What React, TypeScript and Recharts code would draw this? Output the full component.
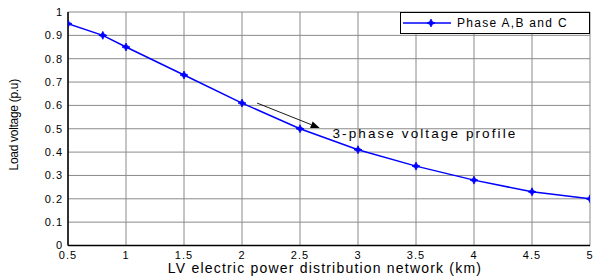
import React from 'react';
import { LineChart, Line, XAxis, YAxis, CartesianGrid, ReferenceLine, ReferenceDot } from 'recharts';

const distances = [0.5, 0.8, 1, 1.5, 2, 2.5, 3, 3.5, 4, 4.5, 5];
const voltages = [0.95, 0.9, 0.85, 0.73, 0.61, 0.5, 0.41, 0.34, 0.28, 0.23, 0.2];
const xTicks = [0.5, 1, 1.5, 2, 2.5, 3, 3.5, 4, 4.5, 5];
const yTicks = [0, 0.1, 0.2, 0.3, 0.4, 0.5, 0.6, 0.7, 0.8, 0.9, 1];
const seriesName = 'Phase A,B and C';
const annotationText = '3-phase voltage profile';
const arrowStart = { x: 2.13, y: 0.61 };
const arrowEnd = { x: 2.67, y: 0.503 };
const annotationPos = { x: 2.78, y: 0.48 };

const data = distances.map((d, i) => ({ d, v: voltages[i] }));

const FONT = '"Liberation Sans", Arial, sans-serif';
const BLUE = '#0000ff';

const StarDot = (props: any) => {
  const { cx, cy } = props;
  if (cx == null || cy == null) return null;
  const s = 4;
  const t = 1.3;
  const pts = [
    [cx, cy - s], [cx + t, cy - t], [cx + s, cy], [cx + t, cy + t],
    [cx, cy + s], [cx - t, cy + t], [cx - s, cy], [cx - t, cy - t],
  ].map((p) => p.join(',')).join(' ');
  return <polygon points={pts} fill={BLUE} stroke={BLUE} strokeWidth={0.8} />;
};

const ArrowShape = (props: any) => {
  const { x1, y1, x2, y2 } = props;
  if ([x1, y1, x2, y2].some((v) => v == null || isNaN(v))) return null;
  const ang = Math.atan2(y2 - y1, x2 - x1);
  const L = 9;
  const W = 3.5;
  const bx = x2 - L * Math.cos(ang);
  const by = y2 - L * Math.sin(ang);
  const px = -Math.sin(ang) * W;
  const py = Math.cos(ang) * W;
  return (
    <g>
      <line x1={x1} y1={y1} x2={bx} y2={by} stroke="#000" strokeWidth={0.9} />
      <polygon points={`${x2},${y2} ${bx + px},${by + py} ${bx - px},${by - py}`} fill="#000" />
    </g>
  );
};

const LegendBox = () => (
  <div
    style={{
      position: 'absolute',
      left: 400,
      top: 12,
      width: 190,
      height: 22,
      border: '1px solid #000',
      background: '#fff',
      boxSizing: 'border-box',
      display: 'flex',
      alignItems: 'center',
      fontFamily: FONT,
      fontSize: 12,
      letterSpacing: 1.3,
      color: '#000',
      whiteSpace: 'nowrap',
    }}
  >
    <svg width={56} height={20} style={{ display: 'block', flex: 'none' }}>
      <line x1={2} y1={10} x2={50} y2={10} stroke={BLUE} strokeWidth={1.5} />
      <StarDot cx={30} cy={10} />
    </svg>
    <span>{seriesName}</span>
  </div>
);

const tickStyle = { fill: '#000', fontSize: 11, fontFamily: FONT, letterSpacing: 1 };

export default function App() {
  return (
    <div style={{ position: 'absolute', left: 0, top: 0, width: 600, height: 276, background: '#fff' }}>
      <LineChart
        width={600}
        height={276}
        data={data}
        margin={{ top: 12, right: 10, bottom: 0, left: 0 }}
        style={{ fontFamily: FONT }}
      >
        <CartesianGrid stroke="#8a8a8a" strokeWidth={1} horizontal vertical />
        <XAxis
          dataKey="d"
          type="number"
          domain={[0.5, 5]}
          ticks={xTicks}
          height={30.5}
          stroke="#000"
          strokeWidth={1.5}
          tickSize={0}
          tickLine={false}
          tick={tickStyle}
          tickMargin={6}
          interval={0}
          allowDataOverflow
          label={{ value: 'LV electric power distribution network (km)', position: 'insideBottom', offset: 3, dx: -4, fill: '#000', fontSize: 14, fontFamily: FONT, style: { letterSpacing: 1.2 } }}
        />
        <XAxis
          xAxisId="top"
          orientation="top"
          dataKey="d"
          type="number"
          domain={[0.5, 5]}
          ticks={xTicks}
          height={0}
          stroke="#000"
          tick={false}
          tickLine={false}
        />
        <YAxis
          type="number"
          domain={[0, 1]}
          ticks={yTicks}
          width={68}
          stroke="#000"
          strokeWidth={1.5}
          tickSize={0}
          tickLine={false}
          tick={tickStyle}
          tickMargin={5}
          interval={0}
          label={{ value: 'Load voltage (p.u)', angle: -90, position: 'insideLeft', offset: 14, dy: -4, fill: '#000', fontSize: 12, fontFamily: FONT, style: { textAnchor: 'middle', letterSpacing: -0.3 } }}
        />
        <YAxis
          yAxisId="right"
          orientation="right"
          type="number"
          domain={[0, 1]}
          width={0}
          stroke="#000"
          tick={false}
          tickLine={false}
        />
        <ReferenceLine
          segment={[arrowStart, arrowEnd]}
          stroke="#000"
          shape={(p: any) => <ArrowShape {...p} />}
          ifOverflow="visible"
        />
        <ReferenceDot
          x={annotationPos.x}
          y={annotationPos.y}
          r={0}
          fill="none"
          stroke="none"
          ifOverflow="visible"
          label={{ value: annotationText, position: 'right', offset: 0, fill: '#000', fontSize: 13.5, fontFamily: FONT, style: { letterSpacing: 2.1 } }}
        />
        <Line
          type="linear"
          dataKey="v"
          name={seriesName}
          stroke={BLUE}
          strokeWidth={1.5}
          dot={(p: any) => <StarDot key={p.index} cx={p.cx} cy={p.cy} />}
          activeDot={false}
          isAnimationActive={false}
        />
      </LineChart>
      <LegendBox />
    </div>
  );
}
